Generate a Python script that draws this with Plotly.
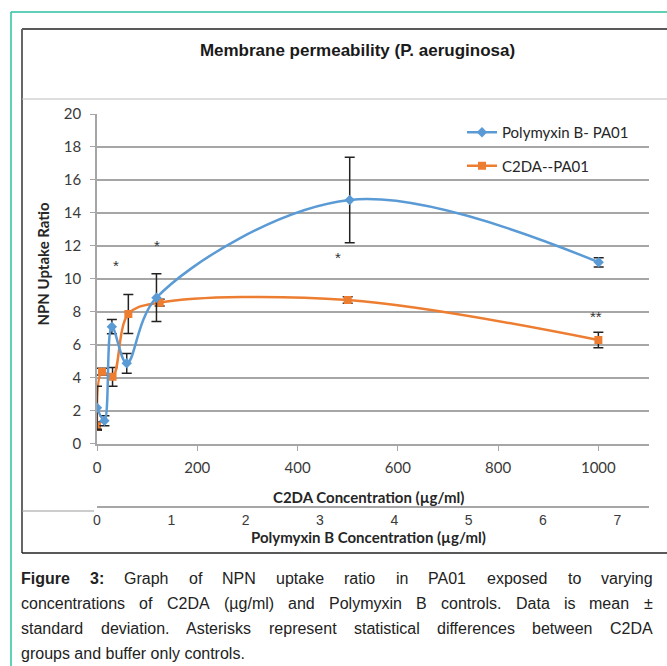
import plotly.graph_objects as go

W, H = 667, 666

# ---------------- data ----------------
c2da_conc = [0, 10, 31, 62.5, 125, 500, 1000]          # µg/ml (primary x axis)
c2da_ratio = [1.05, 4.36, 4.05, 7.86, 8.55, 8.71, 6.28]
c2da_sd = [0.25, 0.2, 0.57, 1.19, 0.2, 0.2, 0.47]

pmb_conc = [0, 0.1, 0.2, 0.4, 0.8, 3.4, 6.75]          # µg/ml (secondary x axis)
pmb_ratio = [2.17, 1.38, 7.09, 4.87, 8.85, 14.78, 11.0]
pmb_sd = [1.3, 0.3, 0.43, 0.6, 1.45, 2.59, 0.28]

star_x = [38, 120, 480, 996]
star_y = [10.78, 12.0, 11.26, 7.68]
star_text = ["*", "*", "*", "**"]

c2da_ticks = [0, 200, 400, 600, 800, 1000]
pmb_ticks = [0, 1, 2, 3, 4, 5, 6, 7]
y_ticks = [0, 2, 4, 6, 8, 10, 12, 14, 16, 18, 20]

title_text = "Membrane permeability (P. aeruginosa)"
caption_lines = [
    [("Figure", True), ("3:", True), ("Graph", False), ("of", False), ("NPN", False),
     ("uptake", False), ("ratio", False), ("in", False), ("PA01", False),
     ("exposed", False), ("to", False), ("varying", False)],
    [(w, False) for w in "concentrations of C2DA (µg/ml) and Polymyxin B controls. Data is mean ±".split(" ")],
    [(w, False) for w in "standard deviation. Asterisks represent statistical differences between C2DA".split(" ")],
]
caption_last = "groups and buffer only controls."


def px(x):
    return x / W


def py(y):
    return 1 - y / H


BLUE = "#5b9bd5"
ORANGE = "#ed7d31"
GRID = "#a6a6a6"
TXT = "#3a3a3a"

fig = go.Figure()

fig.add_trace(go.Scatter(
    x=pmb_conc, y=pmb_ratio, xaxis="x2", yaxis="y",
    mode="lines+markers", name="Polymyxin B- PA01", legendgroup="a",
    line=dict(color=BLUE, width=2.5, shape="spline", smoothing=1.0),
    marker=dict(symbol="diamond", size=8, color=BLUE),
    error_y=dict(type="data", array=pmb_sd, visible=True, color="#222222",
                 thickness=1.5, width=5),
))
fig.add_trace(go.Scatter(
    x=c2da_conc, y=c2da_ratio, xaxis="x", yaxis="y",
    mode="lines+markers", name="C2DA--PA01", legendgroup="b",
    line=dict(color=ORANGE, width=2.5, shape="spline", smoothing=1.0),
    marker=dict(symbol="square", size=8, color=ORANGE),
    error_y=dict(type="data", array=c2da_sd, visible=True, color="#222222",
                 thickness=1.5, width=5),
))

annotations = []
for sx, sy, st in zip(star_x, star_y, star_text):
    annotations.append(dict(x=sx, y=sy, xref="x", yref="y", text=st, showarrow=False,
                            xanchor="center", yanchor="middle",
                            font=dict(family="Liberation Sans", size=15, color="#333333")))

# axis titles
annotations.append(dict(x=px(42), y=py(263.5), xref="paper", yref="paper",
                        text="<b>NPN Uptake Ratio</b>", textangle=-90, showarrow=False,
                        xanchor="center", yanchor="middle",
                        font=dict(family="Lato", size=15, color="#262626")))
annotations.append(dict(x=px(368.5), y=py(497), xref="paper", yref="paper",
                        text="<b>C2DA Concentration (µg/ml)</b>", showarrow=False,
                        xanchor="center", yanchor="middle",
                        font=dict(family="Lato", size=15, color="#262626")))
annotations.append(dict(x=px(368), y=py(537), xref="paper", yref="paper",
                        text="<b>Polymyxin B Concentration (µg/ml)</b>", showarrow=False,
                        xanchor="center", yanchor="middle",
                        font=dict(family="Lato", size=15, color="#262626")))

# ---------------- caption (justified with Arial metrics) ----------------
R = {}
R.update({c: 556 for c in "abdeghnopqu0123456789"})
R.update({c: 500 for c in "ckszvxy"})
R.update({c: 222 for c in "ijl"})
R.update({c: 278 for c in "ft .:/I"})
R.update({"m": 833, "r": 333, "w": 722, "(": 333, ")": 333, "-": 333, "±": 584, "µ": 576})
R.update({c: 667 for c in "ABEKPSVXY"})
R.update({c: 722 for c in "CDHNRU"})
R.update({c: 778 for c in "GOQ"})
R.update({"F": 611, "T": 611, "Z": 611, "J": 500, "L": 556, "M": 833, "W": 944})
Bm = {"F": 611, "i": 278, "g": 611, "u": 611, "r": 389, "e": 556, "3": 556, ":": 333, " ": 278}

CAP_SIZE = 16
CAP_X0, CAP_X1 = 21, 653
cap_y = [578, 603, 628, 653]


def wwidth(word, bold):
    tab = Bm if bold else R
    return sum(tab.get(ch, 556) for ch in word) * CAP_SIZE / 1000.0


for li, words in enumerate(caption_lines):
    widths = [wwidth(w, b) for w, b in words]
    gap = (CAP_X1 - CAP_X0 - sum(widths)) / (len(words) - 1)
    xpos = CAP_X0
    for (w, b), wd in zip(words, widths):
        annotations.append(dict(x=px(xpos), y=py(cap_y[li]), xref="paper", yref="paper",
                                text=f"<b>{w}</b>" if b else w, showarrow=False,
                                xanchor="left", yanchor="middle", borderpad=0, borderwidth=0,
                                font=dict(family="Liberation Sans", size=CAP_SIZE, color="#222222")))
        xpos += wd + gap
annotations.append(dict(x=px(CAP_X0), y=py(cap_y[3]), xref="paper", yref="paper",
                        text=caption_last, showarrow=False, xanchor="left", yanchor="middle",
                        borderpad=0, borderwidth=0,
                        font=dict(family="Liberation Sans", size=CAP_SIZE, color="#222222")))

# ---------------- frame shapes ----------------
TEAL = "#2cc0a2"
shapes = [
    dict(type="line", xref="paper", yref="paper", x0=px(11), x1=px(667), y0=py(12), y1=py(12),
         line=dict(color=TEAL, width=1.5)),
    dict(type="line", xref="paper", yref="paper", x0=px(11), x1=px(11), y0=py(12), y1=py(666),
         line=dict(color=TEAL, width=1.5)),
    dict(type="line", xref="paper", yref="paper", x0=px(22), x1=px(667), y0=py(29), y1=py(29),
         line=dict(color="#222222", width=1.5)),
    dict(type="line", xref="paper", yref="paper", x0=px(22), x1=px(22), y0=py(29), y1=py(553),
         line=dict(color="#666666", width=2)),
    dict(type="line", xref="paper", yref="paper", x0=px(22), x1=px(667), y0=py(553), y1=py(553),
         line=dict(color="#222222", width=1.5)),
    dict(type="line", xref="paper", yref="paper", x0=px(22), x1=px(667), y0=py(99), y1=py(99),
         line=dict(color="#bdbdbd", width=1.2)),
    dict(type="line", xref="paper", yref="paper", x0=px(22), x1=px(94), y0=py(511), y1=py(511),
         line=dict(color="#9a9a9a", width=1.2)),
]

fig.update_layout(
    width=W, height=H,
    margin=dict(l=0, r=0, t=0, b=0, autoexpand=False),
    paper_bgcolor="white", plot_bgcolor="white",
    title=dict(text=f"<b>{title_text}</b>", x=px(357.5), y=py(50), xanchor="center",
               yanchor="middle", xref="paper", yref="paper",
               font=dict(family="Liberation Sans", size=17, color="#1a1a1a")),
    xaxis=dict(domain=[px(97), px(648.5)], range=[0, 1100], tickvals=c2da_ticks,
               showgrid=False, zeroline=False, showline=True, linecolor=GRID, linewidth=1.5,
               ticks="outside", ticklen=6, tickcolor=GRID, tickwidth=1.2,
               tickfont=dict(family="Lato", size=15, color=TXT), anchor="y",
               ticklabelstandoff=4),
    xaxis2=dict(overlaying="x", anchor="free", position=py(507), side="bottom",
                range=[0, 7.42], tickvals=pmb_ticks, showgrid=False, zeroline=False,
                showline=True, linecolor=GRID, linewidth=1.5, ticks="",
                tickfont=dict(family="Liberation Sans", size=14, color=TXT)),
    yaxis=dict(domain=[py(443.5), py(114)], range=[0, 20], tickvals=y_ticks,
               showgrid=True, gridcolor=GRID, gridwidth=1.5, zeroline=False,
               showline=True, linecolor=GRID, linewidth=1.5,
               ticks="outside", ticklen=5, tickcolor=GRID, tickwidth=1.2,
               tickfont=dict(family="Lato", size=15, color=TXT), ticklabelstandoff=6),
    legend=dict(x=px(462), y=py(116), xanchor="left", yanchor="top",
                bgcolor="rgba(0,0,0,0)", tracegroupgap=11,
                font=dict(family="Lato", size=15, color="#262626")),
    showlegend=True,
    annotations=annotations,
    shapes=shapes,
)

fig.write_html("out.html", config={"displayModeBar": False},
               post_script="document.body.style.margin='0px';")
